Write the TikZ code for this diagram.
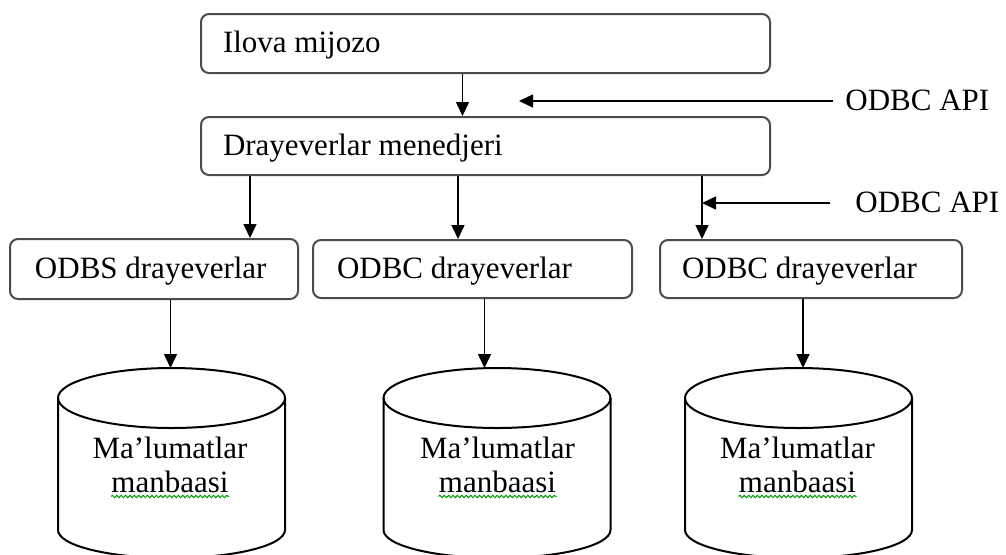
\documentclass[tikz,border=0pt]{standalone}
\usepackage{fontspec}
\setmainfont{Liberation Serif}
\usetikzlibrary{arrows.meta,decorations.pathmorphing}

% data source drawn as an open cylinder: #1 name, #2 axis x, #3 text x
\newcommand\drawdb[3]{%
  \draw[cyl] (#2-113.5,398) -- (#2-113.5,530)
    arc[start angle=180,end angle=360,x radius=56.75pt,y radius=14pt]
    -- (#2+113.5,398);
  \draw[cyl] (#2,398) ellipse[x radius=56.75pt,y radius=15pt];
  \node[dbtext] (#1) at (#3,464.5) {Ma’lumatlar\\manbaasi};
  \draw[squig] ([xshift=-29.5pt,yshift=1.5pt]#1.south) -- ([xshift=29.5pt,yshift=1.5pt]#1.south);
}

\begin{document}
\begin{tikzpicture}[x=0.5pt,y=-0.5pt,
  font=\fontsize{15.5pt}{17pt}\selectfont,
  box/.style={draw=black!70, line width=1pt, rounded corners=4pt,
    inner xsep=0pt, inner ysep=0pt, text height=11.5pt, text depth=2.5pt},
  arr/.style={-{Triangle[length=7pt,width=6.5pt]}, line width=0.75pt},
  cyl/.style={line width=1pt},
  api/.style={inner xsep=6pt, text height=11.5pt, text depth=2.5pt, anchor=base west},
  dbtext/.style={align=center},
  squig/.style={draw=green!60!black, line width=0.5pt, decorate,
    decoration={snake, amplitude=0.6pt, segment length=2.2pt}}
]
\useasboundingbox (0,0) rectangle (1006,554);

% boxes
\node[box, minimum height=29.5pt] (client) at (485.5,43.5)
  {\makebox[284.5pt][l]{\hspace{11pt}Ilova mijozo}};
\node[box, minimum height=29pt] (mgr) at (485.5,146)
  {\makebox[284.5pt][l]{\hspace{11pt}Drayeverlar menedjeri}};
\node[box, minimum height=30pt] (b1) at (154,269)
  {\makebox[144pt][l]{\hspace{12.5pt}ODBS drayeverlar}};
\node[box, minimum height=29pt] (b2) at (472.5,269)
  {\makebox[159.5pt][l]{\hspace{12pt}ODBC drayeverlar}};
\node[box, minimum height=29pt] (b3) at (811,269)
  {\makebox[151pt][l]{\hspace{11pt}ODBC drayeverlar}};

% API labels
\node[api] (api1) at (833,110) {ODBC API};
\node[api] (api2) at (843,212) {ODBC API};
\coordinate (tip1) at (519,101);

% data sources
\drawdb{db1}{171.5}{170}
\drawdb{db2}{497}{497.5}
\drawdb{db3}{798.5}{797.5}
\coordinate (db1top) at (170.5,368);
\coordinate (db2top) at (484.5,368);
\coordinate (db3top) at (803,368);

% connectors
\draw[arr] ([xshift=-11.5pt]client.south) -- ([xshift=-11.5pt]mgr.north);
\draw[arr] (api1.west) -- (api1.west -| tip1);

\path ([xshift=-117.75pt]mgr.south) coordinate (m1)
      ([xshift=-13.75pt]mgr.south) coordinate (m2)
      ([xshift=108.25pt]mgr.south) coordinate (m3);
\draw[arr] (m1) -- (m1 |- b1.north);
\draw[arr] (m2) -- (m2 |- b2.north);
\draw[arr] (m3) -- (m3 |- b3.north);
\draw[arr] ([xshift=-6.5pt]api2.west) -- (api2.west -| m3);

\draw[arr] (b1.south -| db1top) -- (db1top);
\draw[arr] (b2.south -| db2top) -- (db2top);
\draw[arr] (b3.south -| db3top) -- (db3top);
\end{tikzpicture}
\end{document}
